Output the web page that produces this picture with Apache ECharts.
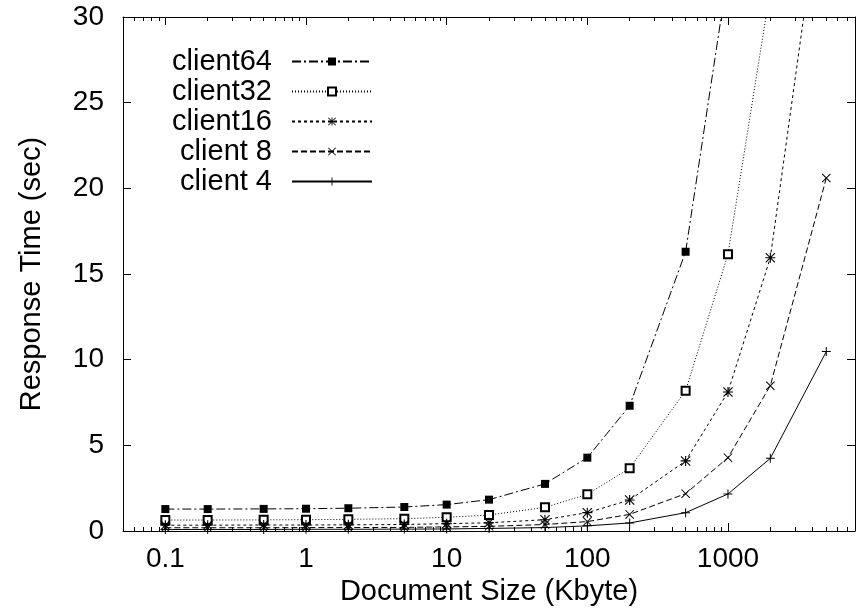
<!DOCTYPE html>
<html><head><meta charset="utf-8">
<script src="https://cdn.jsdelivr.net/npm/echarts@6/dist/echarts.min.js"></script>
<style>html,body{margin:0;padding:0;background:#fff}#c{width:857px;height:613px}</style>
</head><body><div id="c"></div><script>
const sizes = [0.1, 0.2, 0.5, 1, 2, 5, 10, 20, 50, 100, 200, 500, 1000, 2000, 5000];
const client64 = [1.28, 1.28, 1.29, 1.30, 1.33, 1.40, 1.54, 1.83, 2.75, 4.28, 7.31, 16.3, 32.6];
const client32 = [0.64, 0.64, 0.65, 0.66, 0.68, 0.72, 0.80, 0.93, 1.38, 2.14, 3.66, 8.19, 16.15, 31.6];
const client16 = [0.34, 0.34, 0.35, 0.35, 0.36, 0.38, 0.43, 0.48, 0.66, 1.07, 1.81, 4.09, 8.11, 15.95, 39.5];
const client8  = [0.19, 0.19, 0.19, 0.20, 0.20, 0.21, 0.24, 0.27, 0.38, 0.55, 0.97, 2.18, 4.28, 8.48, 20.6];
const client4  = [0.09, 0.09, 0.09, 0.10, 0.10, 0.11, 0.12, 0.15, 0.20, 0.30, 0.47, 1.07, 2.16, 4.24, 10.47];
const seriesNames = ['client64', 'client32', 'client16', 'client 8', 'client 4'];
const xMajorTicks = [0.1, 1, 10, 100, 1000];
const xMinorTicks = [0.06, 0.07, 0.08, 0.09,
  0.2, 0.3, 0.4, 0.5, 0.6, 0.7, 0.8, 0.9,
  2, 3, 4, 5, 6, 7, 8, 9,
  20, 30, 40, 50, 60, 70, 80, 90,
  200, 300, 400, 500, 600, 700, 800, 900,
  2000, 3000, 4000, 5000, 6000, 7000, 8000];
const yMin = 0, yMax = 30, yStep = 5;
const xMin = 0.05, xMax = 8000;

const FONT = 'Liberation Sans';
const pair = (vals) => vals.map((v, i) => [sizes[i], v]);
const PLUS = 'path://M0,4L9,4L9,5L0,5ZM4,0L5,0L5,9L4,9Z';
const CROSS = 'path://M0,0.7L0.7,0L9,8.3L8.3,9ZM8.3,0L9,0.7L0.7,9L0,8.3Z';
const STAR = 'path://M0,4L9,4L9,5L0,5ZM4,0L5,0L5,9L4,9ZM0,0.7L0.7,0L9,8.3L8.3,9ZM8.3,0L9,0.7L0.7,9L0,8.3Z';

const specs = [
  {name: seriesNames[0], data: client64, symbol: 'rect', size: 8, dash: [9, 3, 2, 3]},
  {name: seriesNames[1], data: client32, symbol: 'emptyRect', size: 8, dash: [1, 2]},
  {name: seriesNames[2], data: client16, symbol: STAR, size: 10, dash: [3, 3]},
  {name: seriesNames[3], data: client8, symbol: CROSS, size: 9, dash: [6, 3]},
  {name: seriesNames[4], data: client4, symbol: PLUS, size: 9, dash: 'solid'}
];

const series = specs.map(s => ({
  name: s.name, type: 'line', xAxisIndex: 0, yAxisIndex: 0,
  data: pair(s.data), symbol: s.symbol, symbolSize: s.size, showAllSymbol: true,
  clip: true, animation: false,
  lineStyle: {color: '#000', width: 1, type: s.dash},
  itemStyle: {color: '#000', borderWidth: s.symbol === 'emptyRect' ? 1 : 0}
}));

const legends = specs.map((s, i) => ({
  data: [s.name], orient: 'vertical', align: 'right',
  right: 857 - 373, top: 52 + i * 30 - 5,
  itemWidth: 80, itemHeight: 10, itemGap: 0, padding: 0,
  textStyle: {fontFamily: FONT, fontSize: 29, color: '#000', padding: [0, 15, 0, 0]},
  selectedMode: false
}));

const baseX = {
  type: 'log', min: xMin, max: xMax, logBase: 10, gridIndex: 0,
  splitLine: {show: false}, minorSplitLine: {show: false}
};
const tickLine = {color: '#000', width: 1};

const option = {
  backgroundColor: '#fff',
  animation: false,
  grid: {left: 123, right: 2, top: 17, bottom: 82, containLabel: false},
  legend: legends,
  xAxis: [
    Object.assign({}, baseX, {
      position: 'bottom',
      name: 'Document Size (Kbyte)', nameLocation: 'middle', nameGap: 45,
      nameTextStyle: {fontFamily: FONT, fontSize: 29, color: '#000'},
      axisLine: {show: true, lineStyle: {color: '#000', width: 1}},
      axisTick: {show: true, inside: true, length: 8, lineStyle: tickLine, customValues: xMajorTicks},
      axisLabel: {show: true, fontFamily: FONT, fontSize: 28, color: '#000', margin: 14,
        customValues: xMajorTicks, formatter: v => String(v)}
    }),
    Object.assign({}, baseX, {
      position: 'bottom',
      axisLine: {show: false},
      axisTick: {show: true, inside: true, length: 4, lineStyle: tickLine, customValues: xMinorTicks},
      axisLabel: {show: false}
    }),
    Object.assign({}, baseX, {
      position: 'top',
      axisLine: {show: true, lineStyle: {color: '#000', width: 1}},
      axisTick: {show: true, inside: true, length: 8, lineStyle: tickLine, customValues: xMajorTicks},
      axisLabel: {show: false}
    }),
    Object.assign({}, baseX, {
      position: 'top',
      axisLine: {show: false},
      axisTick: {show: true, inside: true, length: 4, lineStyle: tickLine, customValues: xMinorTicks},
      axisLabel: {show: false}
    })
  ],
  yAxis: [
    {
      type: 'value', min: yMin, max: yMax, interval: yStep, position: 'left',
      name: 'Response Time (sec)', nameLocation: 'middle', nameGap: 77,
      nameTextStyle: {fontFamily: FONT, fontSize: 29, color: '#000'},
      axisLine: {show: true, lineStyle: {color: '#000', width: 1}},
      axisTick: {show: true, inside: true, length: 8, lineStyle: tickLine},
      axisLabel: {fontFamily: FONT, fontSize: 28, color: '#000', margin: 19},
      splitLine: {show: false}
    },
    {
      type: 'value', min: yMin, max: yMax, interval: yStep, position: 'right',
      axisLine: {show: true, lineStyle: {color: '#000', width: 1}},
      axisTick: {show: true, inside: true, length: 8, lineStyle: tickLine},
      axisLabel: {show: false},
      splitLine: {show: false}
    }
  ],
  series: series
};

const chart = echarts.init(document.getElementById('c'), null, {renderer: 'canvas'});
chart.setOption(option);
</script></body></html>
